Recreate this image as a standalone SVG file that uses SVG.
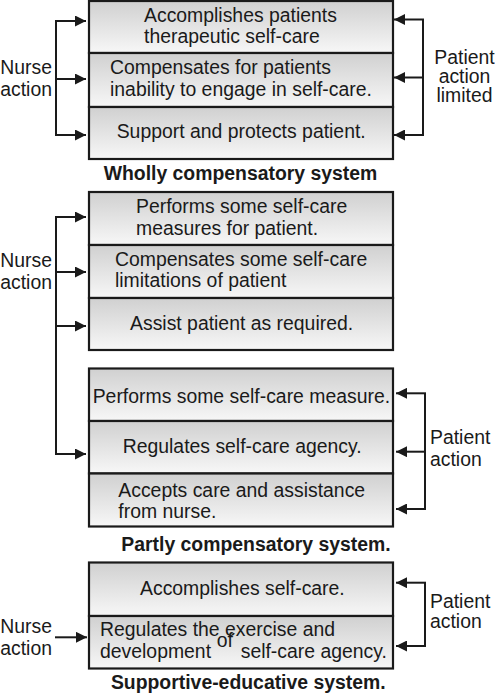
<svg xmlns="http://www.w3.org/2000/svg" width="495" height="697" viewBox="0 0 495 697">
<style>
.row{fill:url(#g);stroke:#1a1a1a;stroke-width:2.2}
text{font-family:"Liberation Sans",Arial,sans-serif;font-size:19.4px;fill:#1a1a1a}
.t{font-weight:bold;text-anchor:middle}
.e{text-anchor:end}
.m{text-anchor:middle}
.c{fill:none;stroke:#1a1a1a;stroke-width:2;stroke-linejoin:miter}
.a{fill:none;stroke:#1a1a1a;stroke-width:2;marker-end:url(#ah)}
</style>
<defs>
<linearGradient id="g" x1="0" y1="0" x2="0" y2="1">
<stop offset="0" stop-color="#d0d0d0"/>
<stop offset="1" stop-color="#f7f7f7"/>
</linearGradient>
<marker id="ah" markerUnits="userSpaceOnUse" markerWidth="11" markerHeight="11" refX="11" refY="5.5" orient="auto">
<path d="M0,0 L11,5.5 L0,11 z" fill="#1a1a1a"/>
</marker>
</defs>
<rect width="495" height="697" fill="#ffffff"/>

<!-- Wholly compensatory system -->
<g id="w1"><rect class="row" x="89" y="1" width="304" height="52"/><text x="144" y="21.5">Accomplishes patients</text><text x="144" y="43">therapeutic self-care</text></g>
<g id="w2"><rect class="row" x="89" y="53" width="304" height="54"/><text x="110" y="74">Compensates for patients</text><text x="110" y="95.7">inability to engage in self-care.</text></g>
<g id="w3"><rect class="row" x="89" y="107" width="304" height="52"/><text x="116.7" y="138.3">Support and protects patient.</text></g>
<g id="w-nurse"><text class="e" x="52" y="74">Nurse</text><text class="e" x="52" y="95.7">action</text></g>
<g id="w-patient"><text class="m" x="464.5" y="64.3">Patient</text><text class="m" x="464.5" y="83.3">action</text><text class="m" x="464.5" y="101.7">limited</text></g>
<text id="w-title" class="t" x="240.5" y="180">Wholly compensatory system</text>

<!-- Partly compensatory system -->
<g id="p1"><rect class="row" x="89" y="192" width="304" height="53"/><text x="136" y="212.7">Performs some self-care</text><text x="136" y="235">measures for patient.</text></g>
<g id="p2"><rect class="row" x="89" y="245" width="304" height="53"/><text x="115" y="266">Compensates some self-care</text><text x="115" y="287">limitations of patient</text></g>
<g id="p3"><rect class="row" x="89" y="298" width="304" height="52"/><text x="130" y="330">Assist patient as required.</text></g>
<g id="p-nurse"><text class="e" x="52" y="267">Nurse</text><text class="e" x="52" y="289">action</text></g>
<g id="p4"><rect class="row" x="89" y="368.5" width="304" height="52.5"/><text x="92.7" y="403.3">Performs some self-care measure.</text></g>
<g id="p5"><rect class="row" x="89" y="421" width="304" height="52.5"/><text x="122.7" y="453.3">Regulates self-care agency.</text></g>
<g id="p6"><rect class="row" x="89" y="473.5" width="304" height="53"/><text x="118.3" y="496.7">Accepts care and assistance</text><text x="118.3" y="517.7">from nurse.</text></g>
<g id="p-patient"><text x="430" y="444.3">Patient</text><text x="430" y="466">action</text></g>
<text id="p-title" class="t" x="256" y="550.7">Partly compensatory system.</text>

<!-- Supportive-educative system -->
<g id="s1"><rect class="row" x="89" y="562.5" width="304" height="53.5"/><text x="140" y="595">Accomplishes self-care.</text></g>
<g id="s2"><rect class="row" x="89" y="616" width="304" height="52.5"/><text x="100" y="636">Regulates the exercise and</text><text x="100" y="658.3">development</text><text x="216.7" y="647.3">of</text><text x="240.7" y="658.3">self-care agency.</text></g>
<g id="s-nurse"><text class="e" x="52" y="633.3">Nurse</text><text class="e" x="52" y="655">action</text></g>
<g id="s-patient"><text x="430" y="608.3">Patient</text><text x="430" y="628.3">action</text></g>
<text id="s-title" class="t" x="248.3" y="689.3">Supportive-educative system.</text>

<g id="connectors">
<path class="c" d="M56,21 V135"/>
<path class="a" d="M55,21 H86"/>
<path class="a" d="M56,79 H86"/>
<path class="a" d="M55,135 H86"/>
<path class="c" d="M423,19.5 V135"/>
<path class="a" d="M424,19.5 H394"/>
<path class="a" d="M423,77.5 H394"/>
<path class="a" d="M424,135 H394"/>

<path class="c" d="M56,217 V454"/>
<path class="a" d="M55,217 H86"/>
<path class="a" d="M56,272 H86"/>
<path class="a" d="M56,326 H86"/>
<path class="a" d="M55,454 H86"/>

<path class="c" d="M425,393.3 V509"/>
<path class="a" d="M426,393.3 H396"/>
<path class="a" d="M425,451.7 H396"/>
<path class="a" d="M426,509 H396"/>

<path class="a" d="M55,637.3 H87"/>
<path class="c" d="M425,582.7 V646"/>
<path class="a" d="M426,582.7 H396"/>
<path class="a" d="M426,646 H396"/>
</g>
</svg>
